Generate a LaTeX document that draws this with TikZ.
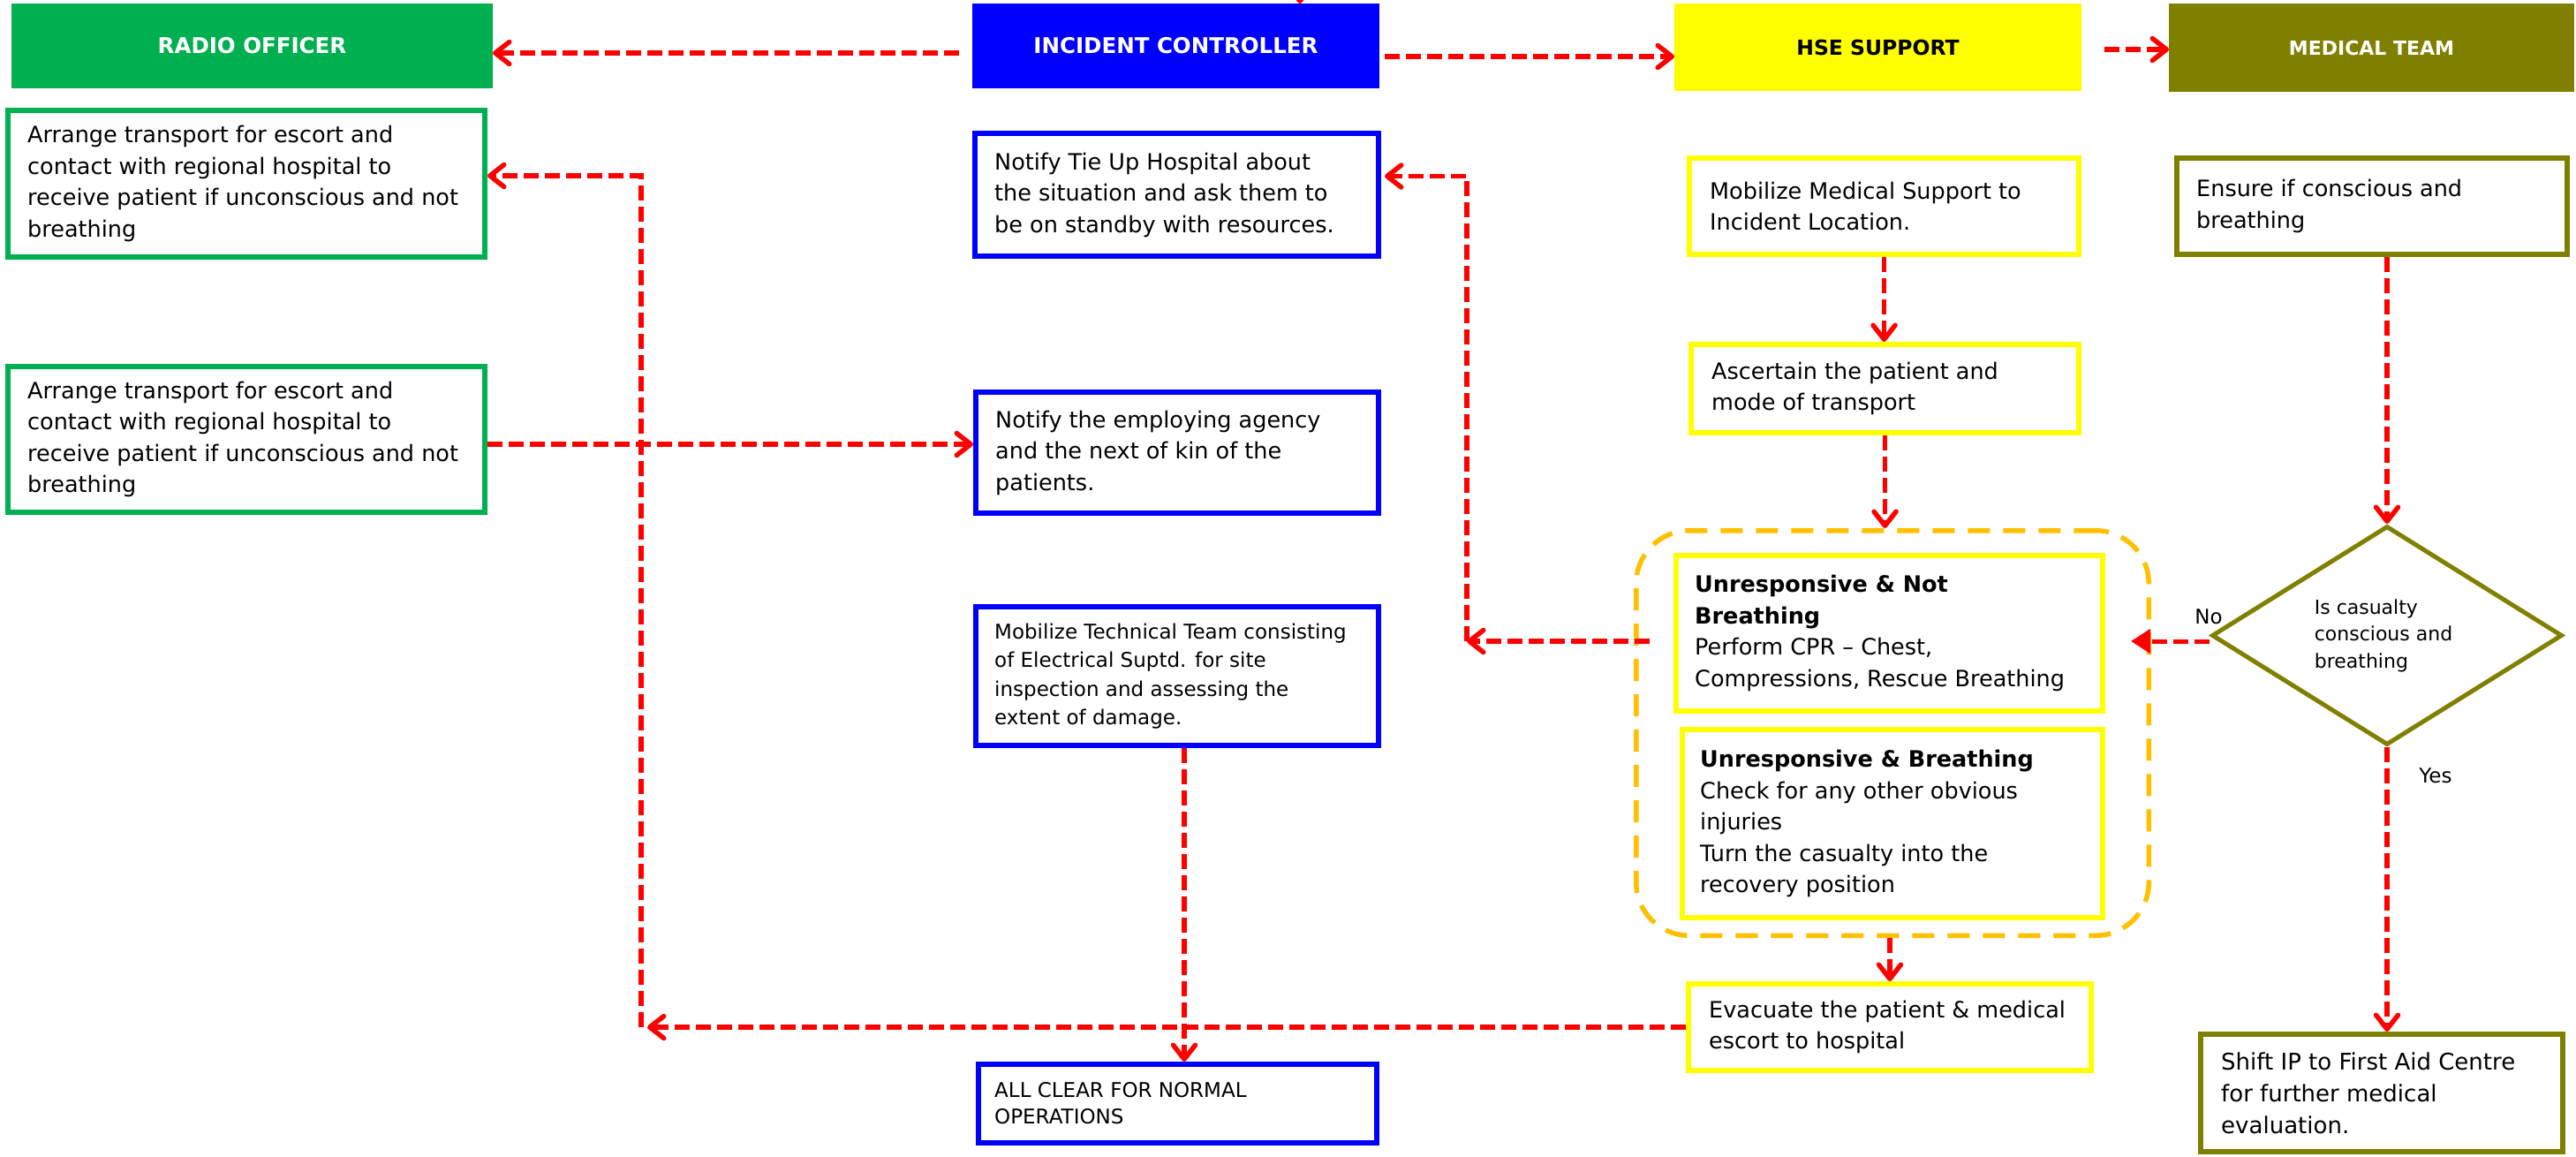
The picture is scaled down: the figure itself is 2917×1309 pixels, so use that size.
\documentclass[tikz,border=0pt]{standalone}
\usepackage{fontspec}
\setmainfont{DejaVu Sans}
\usetikzlibrary{arrows.meta,shapes.geometric}
\definecolor{rogreen}{HTML}{00B050}
\definecolor{icblue}{HTML}{0000FF}
\definecolor{hseyellow}{HTML}{FFFF00}
\definecolor{mtolive}{HTML}{808000}
\definecolor{grporange}{HTML}{FFC000}
\definecolor{arrred}{HTML}{FF0000}
\begin{document}
\begin{tikzpicture}[x=1pt,y=-1pt,
  hdr/.style={inner sep=0pt, outer sep=0pt, font=\bfseries\fontsize{24.5}{30}\selectfont},
  box/.style={draw=#1, line width=6pt, fill=white, inner sep=0pt, outer sep=3pt},
  txt/.style={anchor=west, align=left, inner sep=0pt, text=black, font=\fontsize{25.5}{35.5}\selectfont},
  lbl/.style={inner sep=0pt, text=black, font=\fontsize{23}{28}\selectfont},
  conn/.style={draw=arrred, line width=5.5pt, dash pattern=on 17pt off 7pt, -{Straight Barb[length=16pt,width=25pt,round]}},
  connfill/.style={draw=arrred, line width=5pt, dash pattern=on 17pt off 7pt, -{Triangle[length=22pt,width=27pt]}}
]
\fill[white] (0,0) rectangle (2917,1309);
\useasboundingbox (0,0) rectangle (2917,1309);

% headers
\node[hdr, fill=rogreen, text=white, minimum width=545pt, minimum height=96pt] (roH) at (285.5,52) {RADIO OFFICER};
\node[hdr, fill=icblue, text=white, minimum width=461pt, minimum height=96pt] (icH) at (1331.5,52) {INCIDENT CONTROLLER};
\node[hdr, fill=hseyellow, text=black, minimum width=461pt, minimum height=99pt, font=\bfseries\fontsize{23.5}{28}\selectfont] (hseH) at (2126.5,53.5) {HSE SUPPORT};
\node[hdr, fill=mtolive, text=white, minimum width=459pt, minimum height=100pt, font=\bfseries\fontsize{22}{27}\selectfont] (mtH) at (2685.5,54) {MEDICAL TEAM};

% dashed group
\node[draw=grporange, line width=5.5pt, dash pattern=on 25pt off 15pt, rounded corners=60pt, inner sep=0pt, outer sep=2.75pt, minimum width=580.5pt, minimum height=458.5pt] (grp) at (2143,830) {};

% boxes
\node[box=rogreen, minimum width=540pt, minimum height=166pt] (ro1) at (279,208) {};
\node[box=rogreen, minimum width=540pt, minimum height=165pt] (ro2) at (279,497.5) {};
\node[box=icblue, minimum width=457pt, minimum height=139pt] (ic1) at (1332.5,220.5) {};
\node[box=icblue, minimum width=456pt, minimum height=137pt] (ic2) at (1333,512.5) {};
\node[box=icblue, minimum width=456pt, minimum height=157pt] (ic3) at (1333,765.5) {};
\node[box=icblue, minimum width=451pt, minimum height=89pt] (allc) at (1333.5,1249.5) {};
\node[box=hseyellow, minimum width=441pt, minimum height=109pt] (hse1) at (2133.5,233.5) {};
\node[box=hseyellow, minimum width=439pt, minimum height=100pt] (hse2) at (2134.5,440) {};
\node[box=hseyellow, minimum width=483pt, minimum height=176pt] (nb) at (2139.5,717) {};
\node[box=hseyellow, minimum width=476pt, minimum height=213pt] (br) at (2143,932.5) {};
\node[box=hseyellow, minimum width=456pt, minimum height=98pt] (evac) at (2140,1163) {};
\node[box=mtolive, minimum width=442pt, minimum height=109pt] (mt1) at (2686,233.5) {};
\node[box=mtolive, minimum width=410pt, minimum height=133pt] (shift) at (2697,1237.5) {};
\node[draw=mtolive, line width=5pt, fill=white, shape=diamond, inner sep=0pt, outer sep=2.5pt, minimum width=397pt, minimum height=248pt] (dia) at (2703,719.5) {};

% texts
\node[txt] (ro1t) at ([xshift=25pt]ro1.west) {Arrange transport for escort and\\contact with regional hospital to\\receive patient if unconscious and not\\breathing};
\node[txt] (ro2t) at ([xshift=25pt]ro2.west) {Arrange transport for escort and\\contact with regional hospital to\\receive patient if unconscious and not\\breathing};
\node[txt] (ic1t) at ([xshift=25pt]ic1.west) {Notify Tie Up Hospital about\\the situation and ask them to\\be on standby with resources.};
\node[txt] (ic2t) at ([xshift=25pt]ic2.west) {Notify the employing agency\\and the next of kin of the\\patients.};
\node[txt, font=\fontsize{23}{32.5}\selectfont] (ic3t) at ([xshift=24pt]ic3.west) {Mobilize Technical Team consisting\\of Electrical Suptd. for site\\inspection and assessing the\\extent of damage.};
\node[txt, font=\fontsize{23}{30}\selectfont] (allct) at ([xshift=21pt]allc.west) {ALL CLEAR FOR NORMAL\\OPERATIONS};
\node[txt] (hse1t) at ([xshift=26pt]hse1.west) {Mobilize Medical Support to\\Incident Location.};
\node[txt] (hse2t) at ([xshift=26pt]hse2.west) {Ascertain the patient and\\mode of transport};
\node[txt] (nbt) at ([xshift=24pt]nb.west) {\textbf{Unresponsive \& Not}\\\textbf{Breathing}\\Perform CPR \textendash{} Chest,\\Compressions, Rescue Breathing};
\node[txt] (brt) at ([xshift=23pt]br.west) {\textbf{Unresponsive \& Breathing}\\Check for any other obvious\\injuries\\Turn the casualty into the\\recovery position};
\node[txt] (evact) at ([xshift=26pt]evac.west) {Evacuate the patient \& medical\\escort to hospital};
\node[txt] (mt1t) at ([xshift=25pt]mt1.west) {Ensure if conscious and\\breathing};
\node[txt, font=\fontsize{26}{36}\selectfont] (shiftt) at ([xshift=26pt]shift.west) {Shift IP to First Aid Centre\\for further medical\\evaluation.};
\node[txt, anchor=center, font=\fontsize{22}{30.5}\selectfont] (diat) at ([xshift=-4pt]dia.center) {Is casualty\\conscious and\\breathing};
\node[lbl] (nolab) at (2501,698) {No};
\node[lbl] (yeslab) at (2758,878) {Yes};

% connectors
\coordinate (topin) at (1472,-25);
\coordinate (noend) at (2413,726);
\coordinate (e1) at (1661,726);
\coordinate (e2) at (726,1163);
\coordinate (e2tip) at (733,1163);
\draw[conn] ([shift={(-15,8)}]icH.west) -- ([shift={(0,8)}]roH.east);
\draw[conn] ([shift={(6,12)}]icH.east) -- ([shift={(0,10.5)}]hseH.west);
\draw[conn] ([shift={(26,2.5)}]hseH.east) -- ([shift={(0,2)}]mtH.west);
\draw[conn] (topin) -- (topin |- icH.north);
\draw[conn] (hse1.south) -- (hse1.south |- hse2.north);
\draw[conn] (hse2.south) -- (hse2.south |- grp.north);
\draw[conn] (grp.south -| evac.north) -- (evac.north);
\draw[conn] (mt1.south -| dia.north) -- (dia.north);
\draw[connfill] (dia.west |- noend) -- (noend);
\draw[conn] (dia.south) -- (dia.south |- shift.north);
\draw[conn] ([shift={(-27,9)}]nb.west) -- (e1);
\draw[conn] (e1) |- ([shift={(4,-21)}]ic1.east);
\draw[conn] (evac.west) -- (e2tip);
\draw[conn] (e2) |- ([shift={(0,-9)}]ro1.east);
\draw[conn] ([shift={(0,5.5)}]ro2.east) -- ([shift={(0,-9.5)}]ic2.west);
\draw[conn] ([shift={(8,0)}]ic3.south) -- ([shift={(8,0)}]ic3.south |- allc.north);
\end{tikzpicture}
\end{document}
